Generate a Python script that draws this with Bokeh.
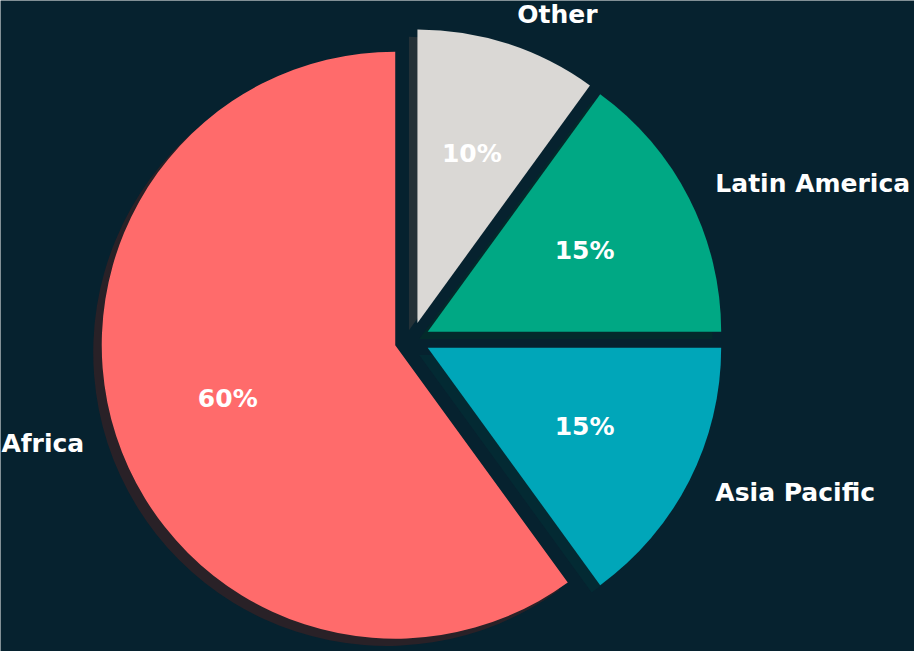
import math
from bokeh.plotting import figure
from bokeh.models import ColumnDataSource, Range1d
from bokeh.core.properties import value
from bokeh.embed import file_html
from bokeh.resources import INLINE

# ---- data ----
categories = ["Africa", "Asia Pacific", "Latin America", "Other"]
shares = [60, 15, 15, 10]
pct_labels = ["60%", "15%", "15%", "10%"]

# ---- style ----
colors = ["#FF6B6B", "#00A6B9", "#00A884", "#DAD8D5"]
BG = "#06222F"
explode = [0.06, 0.06, 0.06, 0.06]
shadow_dx, shadow_dy = -0.029, -0.025
label_dist = 1.1
pct_dist = 0.6


def darken(hexcol, f=0.3):
    h = hexcol.lstrip("#")
    r, g, b = (int(h[i:i + 2], 16) for i in (0, 2, 4))
    return "#%02x%02x%02x" % (int(r * f), int(g * f), int(b * f))


total = float(sum(shares))
start = math.pi / 2
xs, ys, ss, es, mids = [], [], [], [], []
for sh, ex in zip(shares, explode):
    ang = sh / total * 2 * math.pi
    mid = start + ang / 2
    xs.append(ex * math.cos(mid))
    ys.append(ex * math.sin(mid))
    ss.append(start)
    es.append(start + ang)
    mids.append(mid)
    start += ang

src = ColumnDataSource(dict(x=xs, y=ys, s=ss, e=es, color=colors, cat=categories))
shadow_src = ColumnDataSource(dict(
    x=[v + shadow_dx for v in xs], y=[v + shadow_dy for v in ys], s=ss, e=es,
    color=[darken(c) for c in colors]))

W, H = 914, 651
p = figure(width=W, height=H, output_backend="svg", toolbar_location=None,
           x_axis_location=None, y_axis_location=None, min_border=0,
           x_range=Range1d(-1.4020, 1.7121), y_range=Range1d(-1.0624, 1.1557))
p.grid.visible = False
p.outline_line_color = None
p.background_fill_color = BG
p.border_fill_color = BG

p.wedge(x="x", y="y", radius=1.0, start_angle="s", end_angle="e",
        fill_color="color", fill_alpha=0.5, line_color=None, source=shadow_src)
p.wedge(x="x", y="y", radius=1.0, start_angle="s", end_angle="e",
        fill_color="color", line_color=None, source=src)

# category labels
lx_l, ly_l, lt_l, lx_r, ly_r, lt_r = [], [], [], [], [], []
px, py = [], []
for i, m in enumerate(mids):
    x = xs[i] + label_dist * math.cos(m)
    y = ys[i] + label_dist * math.sin(m)
    if math.cos(m) > 0:
        lx_l.append(x); ly_l.append(y); lt_l.append(categories[i])
    else:
        lx_r.append(x); ly_r.append(y); lt_r.append(categories[i])
    px.append(xs[i] + pct_dist * math.cos(m))
    py.append(ys[i] + pct_dist * math.sin(m))

common = dict(text_font=value("DejaVu Sans"), text_font_style="bold",
              text_font_size="25px", text_color="#FFFFFF", text_baseline="middle",
              y_offset=-1.5)
p.text(x=lx_l, y=ly_l, text=lt_l, text_align="left", **common)
p.text(x=lx_r, y=ly_r, text=lt_r, text_align="right", x_offset=-4, **common)
p.text(x=px, y=py, text=pct_labels, text_align="center", **common)

html = file_html(p, INLINE)
open("out.html", "w").write(html)
